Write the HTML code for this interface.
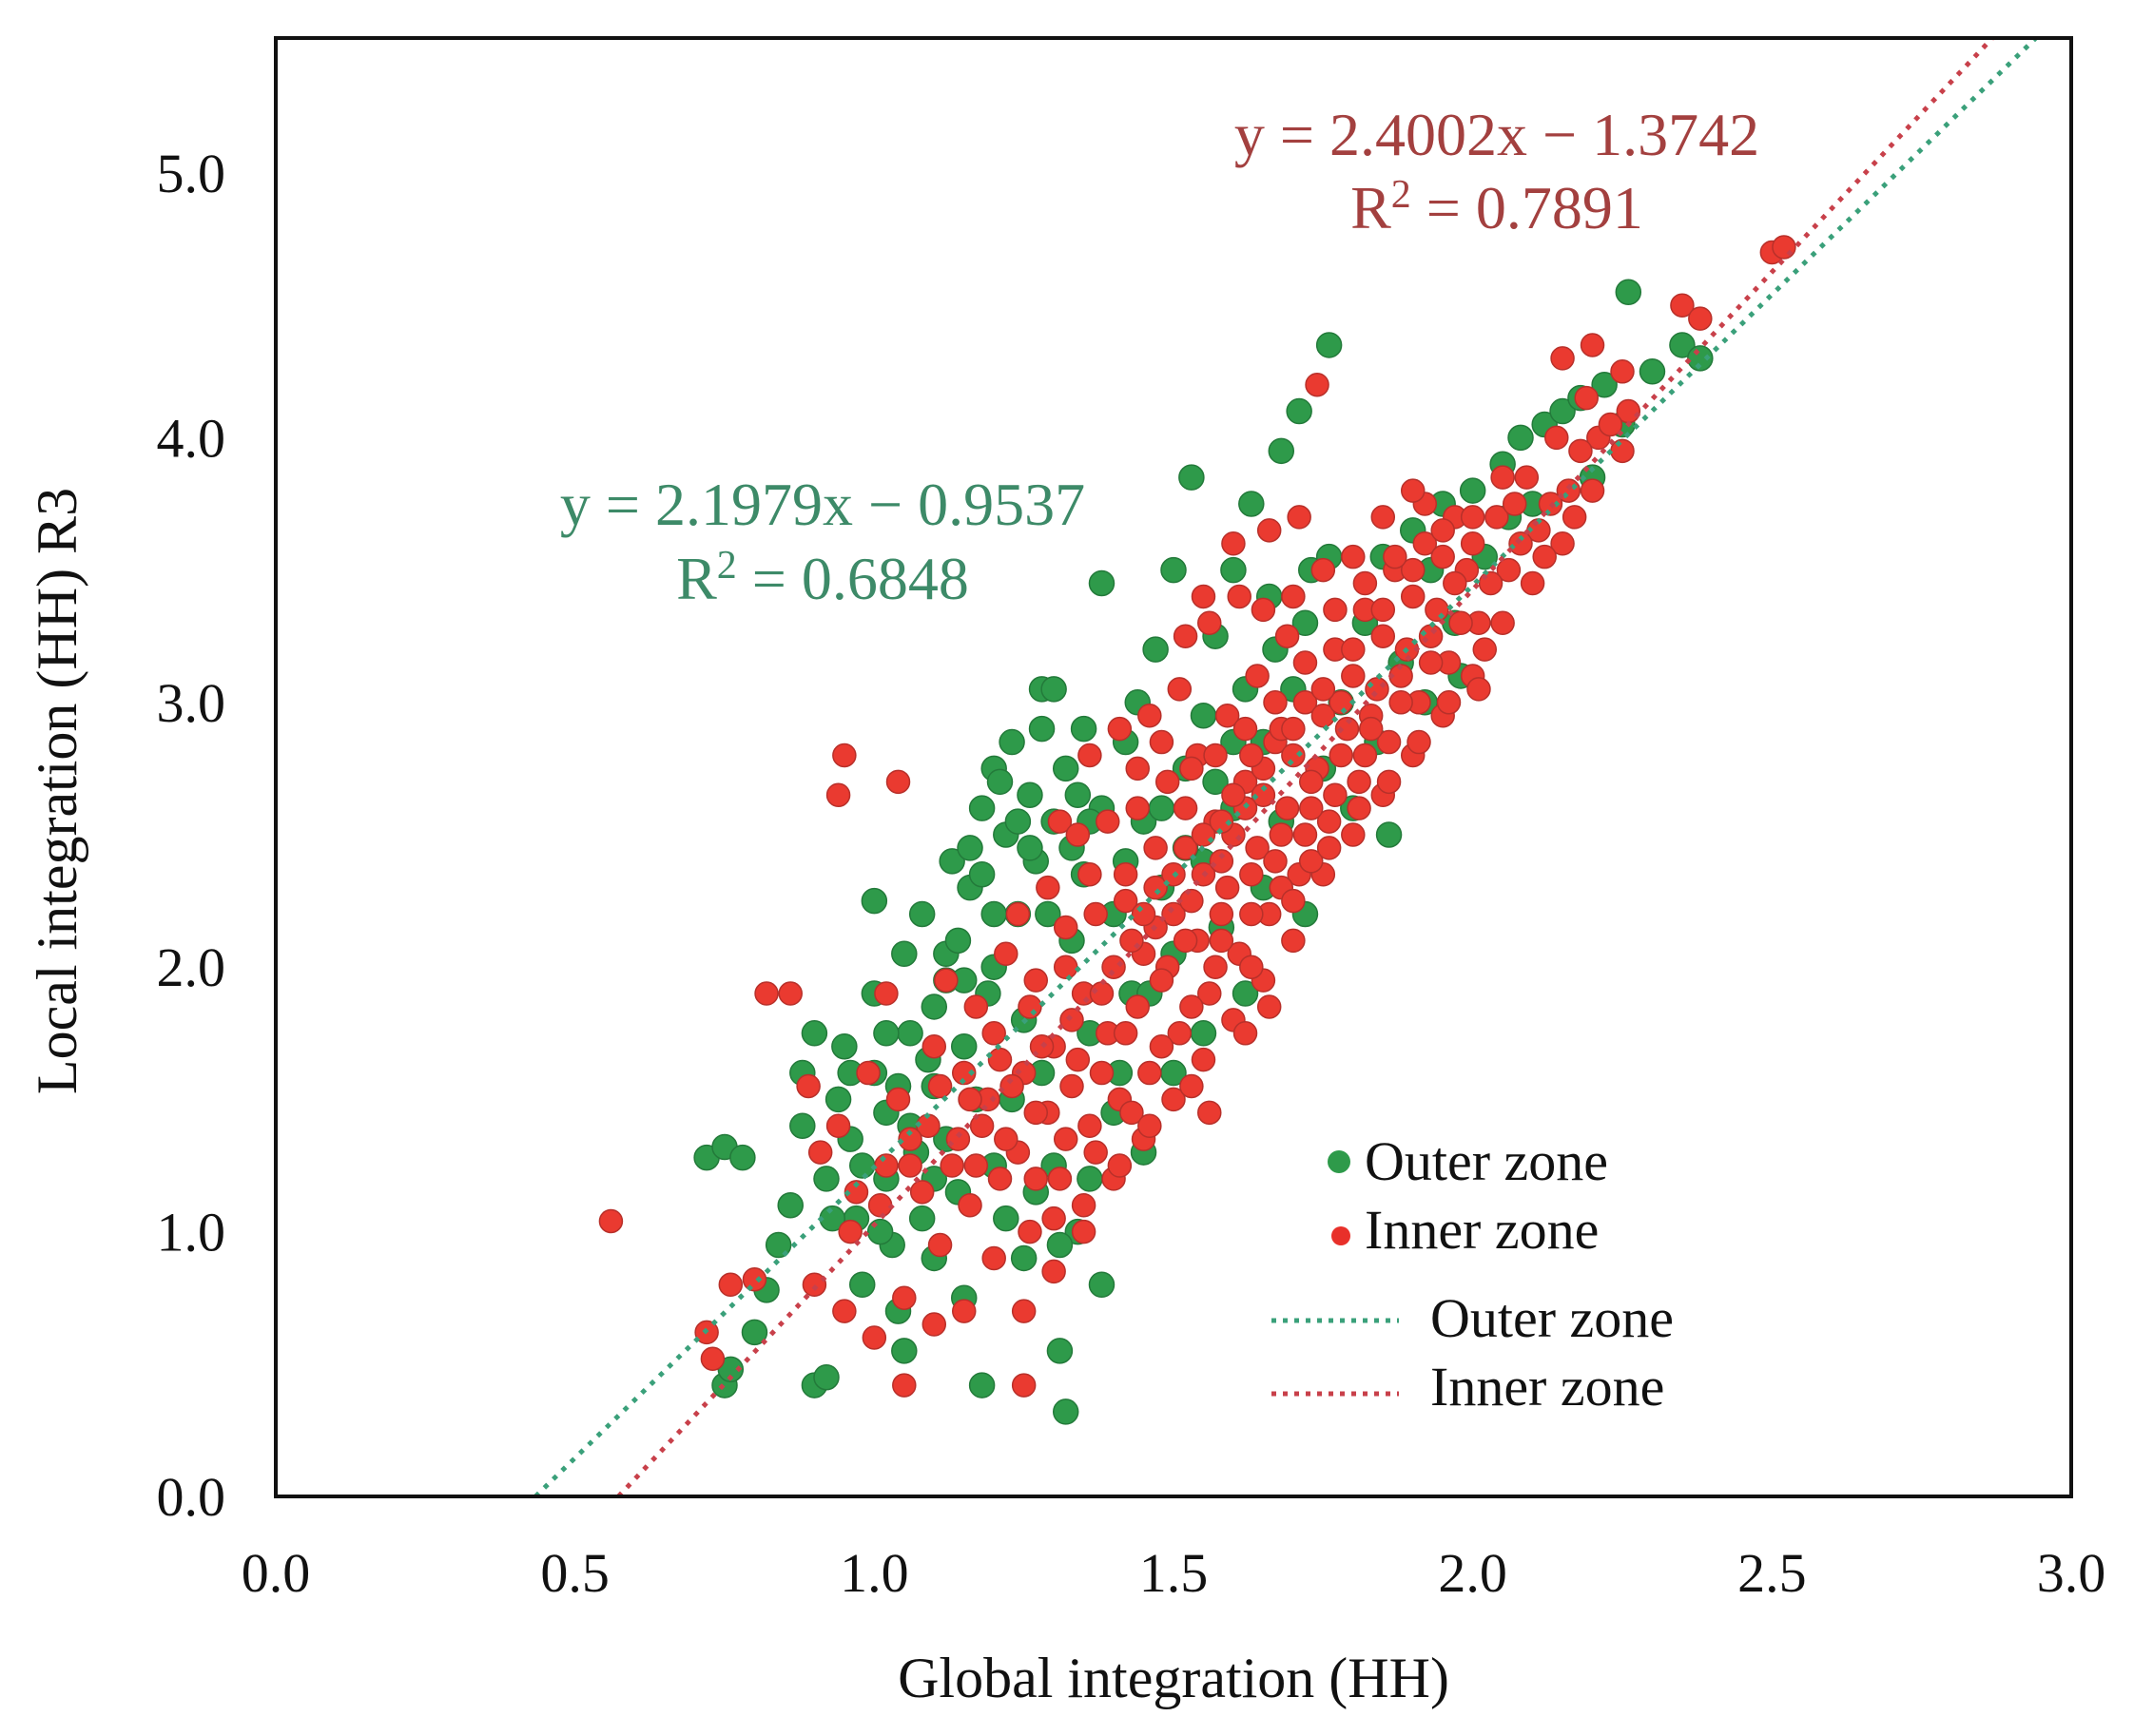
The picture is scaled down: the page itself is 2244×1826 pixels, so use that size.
<!DOCTYPE html>
<html><head><meta charset="utf-8"><style>
html,body{margin:0;padding:0;background:#fff;}
svg{display:block;font-family:"Liberation Serif",serif;}
</style></head><body>
<svg id="chart" width="2244" height="1826" viewBox="0 0 2244 1826">
<rect x="0" y="0" width="2244" height="1826" fill="#fff"/>
<g id="marks"></g>
<rect x="290" y="40" width="1888" height="1534" fill="none" stroke="#111" stroke-width="4"/>
<g id="axes"></g>
<text x="1234" y="1785" text-anchor="middle" font-size="60" fill="#111">Global integration (HH)</text>
<text transform="translate(80,832) rotate(-90)" text-anchor="middle" font-size="60" fill="#111">Local integration (HH) R3</text>
<g fill="#3d8a68" font-size="64" text-anchor="middle">
<text x="865" y="552">y = 2.1979x − 0.9537</text>
<text x="865" y="630">R<tspan font-size="42" dy="-22">2</tspan><tspan dy="22"> = 0.6848</tspan></text>
</g>
<g fill="#a3403f" font-size="64" text-anchor="middle">
<text x="1574" y="163">y = 2.4002x − 1.3742</text>
<text x="1574" y="240">R<tspan font-size="42" dy="-22">2</tspan><tspan dy="22"> = 0.7891</tspan></text>
</g>
<g font-size="58" fill="#111">
<circle cx="1408" cy="1222" r="12" fill="#2e9a4a"/>
<text x="1435" y="1241">Outer zone</text>
<circle cx="1410" cy="1300" r="10" fill="#e8302a"/>
<text x="1435" y="1313">Inner zone</text>
<line x1="1337" y1="1389" x2="1471" y2="1389" stroke="#3aa07a" stroke-width="5" stroke-dasharray="5 7"/>
<text x="1504" y="1406">Outer zone</text>
<line x1="1337" y1="1466" x2="1471" y2="1466" stroke="#c8404a" stroke-width="5" stroke-dasharray="5 7"/>
<text x="1504" y="1478">Inner zone</text>
</g>
</svg>
<script>
const xTicks = [0.0, 0.5, 1.0, 1.5, 2.0, 2.5, 3.0];
const yTicks = [0.0, 1.0, 2.0, 3.0, 4.0, 5.0];
const outerFit = [2.1979, -0.9537];
const innerFit = [2.4002, -1.3742];
const outerPoints = [[0.72,1.28],[0.75,1.32],[0.78,1.28],[0.75,0.42],[0.76,0.48],[0.8,0.62],[0.82,0.78],[0.84,0.95],[0.86,1.1],[0.88,1.4],[0.88,1.6],[0.9,1.75],[0.9,0.42],[0.92,0.45],[0.92,1.2],[0.94,1.5],[0.95,1.7],[0.96,1.35],[0.97,1.05],[0.98,0.8],[1.0,2.25],[1.0,1.9],[1.0,1.6],[1.02,1.45],[1.02,1.2],[1.03,0.95],[1.04,0.7],[1.05,0.55],[1.05,2.05],[1.06,1.75],[1.07,1.3],[1.08,1.05],[1.08,2.2],[1.1,1.85],[1.1,1.55],[1.1,0.9],[1.12,2.05],[1.12,1.35],[1.13,2.4],[1.14,1.15],[1.15,1.7],[1.15,0.75],[1.16,2.3],[1.17,1.5],[1.18,0.42],[1.18,2.6],[1.2,2.75],[1.2,2.0],[1.2,1.25],[1.22,2.5],[1.22,1.05],[1.23,2.85],[1.24,2.2],[1.25,1.8],[1.25,0.9],[1.26,2.65],[1.27,2.4],[1.28,1.6],[1.28,3.05],[1.3,3.05],[1.3,2.55],[1.3,1.25],[1.31,0.55],[1.32,0.32],[1.32,2.75],[1.33,2.1],[1.34,1.0],[1.35,2.9],[1.35,2.35],[1.36,1.75],[1.38,0.8],[1.38,2.6],[1.38,3.45],[1.4,2.2],[1.4,1.45],[1.42,2.85],[1.43,1.9],[1.44,3.0],[1.45,1.3],[1.45,2.55],[1.47,3.2],[1.48,2.3],[1.5,3.5],[1.5,2.05],[1.5,1.6],[1.52,2.75],[1.53,3.85],[1.55,2.4],[1.55,1.75],[1.57,3.25],[1.58,2.15],[1.6,3.5],[1.6,2.6],[1.62,1.9],[1.63,3.75],[1.65,2.85],[1.65,2.3],[1.66,3.4],[1.68,3.95],[1.68,2.55],[1.7,3.05],[1.71,4.1],[1.72,2.2],[1.73,3.5],[1.75,2.75],[1.76,4.35],[1.76,3.55],[1.78,3.0],[1.8,2.6],[1.82,3.3],[1.84,2.85],[1.85,3.55],[1.86,2.5],[1.88,3.15],[1.9,3.65],[1.92,3.0],[1.93,3.5],[1.95,3.75],[1.97,3.3],[1.98,3.1],[2.0,3.8],[2.02,3.55],[2.05,3.9],[2.06,3.7],[2.08,4.0],[2.1,3.75],[2.12,4.05],[2.15,4.1],[2.18,4.15],[2.2,3.85],[2.22,4.2],[2.25,4.05],[2.26,4.55],[2.3,4.25],[2.35,4.35],[2.38,4.3],[1.12,1.95],[1.16,2.45],[1.24,2.55],[1.02,1.75],[0.96,1.6],[1.06,1.4],[1.28,2.9],[1.34,2.65],[1.18,2.35],[1.21,2.7],[1.26,2.45],[1.29,2.2],[1.33,2.45],[1.36,2.55],[1.14,2.1],[1.19,1.9],[1.09,1.65],[1.04,1.55],[0.98,1.25],[0.93,1.05],[1.01,1.0],[1.23,1.5],[1.27,1.15],[1.31,0.95],[1.36,1.2],[1.41,1.6],[1.46,1.9],[1.52,2.45],[1.57,2.7],[1.62,3.05],[1.67,3.2],[1.72,3.3],[1.6,2.85],[1.55,2.95],[1.48,2.6],[1.42,2.4],[1.15,1.95],[1.2,2.2],[1.1,1.2]];
const innerPoints = [[0.56,1.04],[0.95,2.8],[0.94,2.65],[1.04,2.7],[0.82,1.9],[0.86,1.9],[0.72,0.62],[0.73,0.52],[0.76,0.8],[0.8,0.82],[1.25,0.42],[1.05,0.42],[2.5,4.7],[2.52,4.72],[2.35,4.5],[2.38,4.45],[2.2,4.35],[2.25,4.25],[0.9,0.8],[0.91,1.3],[0.89,1.55],[0.95,0.7],[0.96,1.0],[0.94,1.4],[1.0,0.6],[1.01,1.1],[0.99,1.6],[1.02,1.9],[1.05,0.75],[1.06,1.25],[1.04,1.5],[1.1,0.65],[1.11,0.95],[1.09,1.4],[1.1,1.7],[1.12,1.95],[1.15,0.7],[1.16,1.1],[1.14,1.35],[1.15,1.6],[1.17,1.85],[1.2,0.9],[1.21,1.2],[1.19,1.5],[1.2,1.75],[1.22,2.05],[1.25,0.7],[1.26,1.0],[1.24,1.3],[1.25,1.6],[1.27,1.95],[1.24,2.2],[1.3,0.85],[1.31,1.2],[1.29,1.45],[1.3,1.7],[1.32,2.0],[1.29,2.3],[1.31,2.55],[1.35,1.1],[1.36,1.4],[1.34,1.65],[1.35,1.9],[1.37,2.2],[1.34,2.5],[1.36,2.8],[1.4,1.2],[1.41,1.5],[1.39,1.75],[1.4,2.0],[1.42,2.25],[1.39,2.55],[1.41,2.9],[1.45,1.35],[1.46,1.6],[1.44,1.85],[1.45,2.05],[1.47,2.3],[1.44,2.6],[1.46,2.95],[1.5,1.5],[1.51,1.75],[1.49,2.0],[1.5,2.2],[1.52,2.45],[1.49,2.7],[1.51,3.05],[1.55,1.65],[1.56,1.9],[1.54,2.1],[1.55,2.35],[1.57,2.55],[1.54,2.8],[1.56,3.3],[1.6,1.8],[1.61,2.05],[1.59,2.3],[1.6,2.5],[1.62,2.7],[1.59,2.95],[1.61,3.4],[1.65,1.95],[1.66,2.2],[1.64,2.45],[1.65,2.65],[1.67,2.85],[1.64,3.1],[1.66,3.65],[1.7,2.1],[1.71,2.35],[1.69,2.6],[1.7,2.8],[1.72,3.0],[1.69,3.25],[1.71,3.7],[1.75,2.35],[1.76,2.55],[1.74,2.75],[1.75,2.95],[1.77,3.2],[1.74,4.2],[1.8,2.5],[1.81,2.7],[1.79,2.9],[1.8,3.1],[1.82,3.35],[1.85,2.65],[1.86,2.85],[1.84,3.05],[1.85,3.25],[1.87,3.5],[1.9,2.8],[1.91,3.0],[1.89,3.2],[1.9,3.4],[1.92,3.6],[1.95,2.95],[1.96,3.15],[1.94,3.35],[1.95,3.55],[1.97,3.7],[2.0,3.1],[2.01,3.3],[1.99,3.5],[2.0,3.7],[2.05,3.3],[2.06,3.5],[2.04,3.7],[2.05,3.85],[2.1,3.45],[2.11,3.65],[2.09,3.85],[2.15,3.6],[2.16,3.8],[2.14,4.0],[2.15,4.3],[2.2,3.8],[2.21,4.0],[2.19,4.15],[2.25,3.95],[2.26,4.1],[1.62,2.6],[1.68,2.9],[1.73,2.7],[1.78,3.0],[1.83,2.95],[1.88,3.1],[1.93,3.25],[1.53,2.25],[1.58,2.4],[1.43,2.1],[1.48,1.95],[1.38,1.6],[1.33,1.55],[1.27,1.45],[1.57,2.0],[1.63,2.2],[1.67,2.4],[1.72,2.5],[1.77,2.65],[1.82,2.8],
[1.42,1.75],[1.47,2.15],[1.52,2.1],[1.58,2.2],[1.63,2.35],[1.68,2.5],[1.73,2.6],[1.78,2.8],[1.83,2.9],[1.88,3.0],[1.93,3.15],[1.98,3.3],[2.03,3.45],[2.08,3.6],[2.13,3.75],[2.18,3.95],[2.23,4.05],[1.45,2.2],[1.5,2.35],[1.55,2.5],[1.6,2.65],[1.65,2.75],[1.7,2.9],[1.75,3.05],[1.8,3.2],[1.85,3.35],[1.9,3.5],[1.95,3.65],[2.0,3.6],[2.07,3.75],[1.38,1.9],[1.33,1.8],[1.28,1.7],[1.23,1.55],[1.18,1.4],[1.13,1.25],[1.08,1.15],[1.48,1.7],[1.53,1.85],[1.58,2.1],[1.63,2.0],[1.68,2.3],[1.73,2.4],[1.43,1.45],[1.37,1.3],[1.32,1.35],[1.27,1.2],[1.22,1.35],[1.17,1.25],[1.52,2.6],[1.57,2.8],[1.47,2.45],[1.42,2.35],[1.62,2.9],[1.67,3.0],[1.72,3.15],[1.77,3.35],[1.82,3.45],[1.87,3.55],[1.92,3.75],[1.97,3.45],[2.02,3.2],[2.12,3.55],[2.17,3.7],[1.55,3.4],[1.6,3.6],[1.65,3.35],[1.52,3.25],[1.48,2.85],[1.44,2.75],[1.36,2.35],[1.32,2.15],[1.26,1.85],[1.21,1.65],[1.16,1.5],[1.11,1.55],[1.06,1.35],[1.02,1.25],[0.97,1.15],[1.53,1.55],[1.46,1.4],[1.41,1.25],[1.35,1.0],[1.3,1.05],[1.56,1.45],[1.62,1.75],[1.66,1.85],[1.7,2.25],[1.76,2.45],[1.81,2.6],[1.86,2.7],[1.91,2.85],[1.96,3.0],[2.01,3.05],[1.58,2.55],[1.63,2.8],[1.53,2.75],[1.7,3.4],[1.75,3.5],[1.8,3.55],[1.85,3.7],[1.9,3.8]];

const X0 = 290, X1 = 2178, Y0 = 1574, Y1 = 40;
const xMax = 3.0, yPerUnit = 278.4;
function sx(v){ return X0 + v / xMax * (X1 - X0); }
function sy(v){ return Y0 - v * yPerUnit; }
const NS = "http://www.w3.org/2000/svg";
const marks = document.getElementById("marks");
const axes = document.getElementById("axes");

xTicks.forEach(function(t){
  const el = document.createElementNS(NS, "text");
  el.setAttribute("x", sx(t)); el.setAttribute("y", 1674);
  el.setAttribute("text-anchor", "middle"); el.setAttribute("font-size", "58"); el.setAttribute("fill", "#111");
  el.textContent = t.toFixed(1);
  
  
  axes.appendChild(el);
});
yTicks.forEach(function(t){
  const el = document.createElementNS(NS, "text");
  el.setAttribute("x", 237); el.setAttribute("y", sy(t) + 20);
  el.setAttribute("text-anchor", "end"); el.setAttribute("font-size", "58"); el.setAttribute("fill", "#111");
  el.textContent = t.toFixed(1);
  
  
  axes.appendChild(el);
});

function drawPoints(pts, r, fill, stroke, name){
  pts.forEach(function(p){
    const c = document.createElementNS(NS, "circle");
    c.setAttribute("cx", sx(p[0])); c.setAttribute("cy", sy(p[1]));
    c.setAttribute("r", r); c.setAttribute("fill", fill);
    c.setAttribute("stroke", stroke); c.setAttribute("stroke-width", "1.5");
    
    
    marks.appendChild(c);
  });
}
drawPoints(outerPoints, 13, "#2e9a4a", "#237a3a", "outer-point");
drawPoints(innerPoints, 12, "#ea3a30", "#b8302a", "inner-point");

function drawFit(fit, color, name){
  const yTop = (Y0 - Y1) / yPerUnit;
  const xa = -fit[1] / fit[0];
  const xb = Math.min(xMax, (yTop - fit[1]) / fit[0]);
  const l = document.createElementNS(NS, "line");
  l.setAttribute("x1", sx(xa)); l.setAttribute("y1", sy(0));
  l.setAttribute("x2", sx(xb)); l.setAttribute("y2", sy(fit[0]*xb + fit[1]));
  l.setAttribute("stroke", color); l.setAttribute("stroke-width", "5");
  l.setAttribute("stroke-dasharray", "5 8");
  
  
  marks.appendChild(l);
}
drawFit(outerFit, "#3aa07a", "outer-trendline");
drawFit(innerFit, "#c8404a", "inner-trendline");
</script>
</body></html>
